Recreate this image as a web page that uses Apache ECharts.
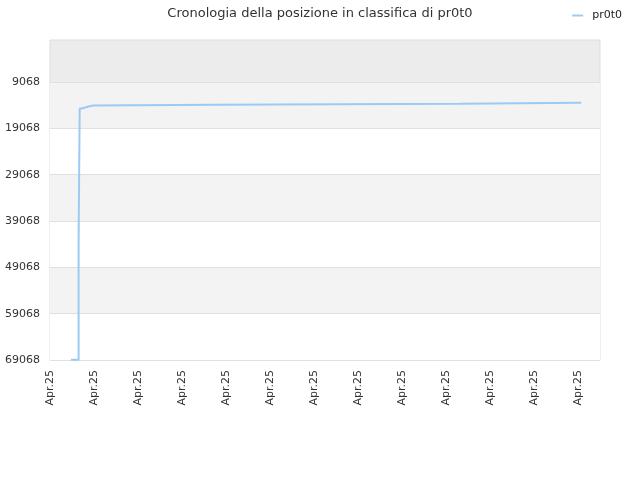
<!DOCTYPE html>
<html>
<head>
<meta charset="utf-8">
<script src="https://cdn.jsdelivr.net/npm/echarts@6/dist/echarts.min.js"></script>
<style>html,body{margin:0;padding:0;background:#fff}#c{width:640px;height:480px}</style>
</head>
<body>
<div id="c"></div>
<script>
// x positions (time index, 0..500) and ranking values
const seriesName = 'pr0t0';
const timeIdx = [19, 26, 27, 29, 32, 35, 39, 150, 372, 483];
const rankVals = [69000, 43600, 14785, 14570, 14350, 14140, 13960, 13750, 13530, 13530];
const yTicks = [9068, 19068, 29068, 39068, 49068, 59068, 69068];
const xLabel = 'Apr.25';

const data = timeIdx.map((x, i) => [x, rankVals[i]]);
const chart = echarts.init(document.getElementById('c'), null, {renderer: 'canvas'});
chart.setOption({
  animation: false,
  backgroundColor: '#fff',
  textStyle: {fontFamily: 'DejaVu Sans'},
  title: {
    text: 'Cronologia della posizione in classifica di pr0t0',
    left: 'center', top: 2,
    textStyle: {fontSize: 13, fontWeight: 'normal', color: '#333', fontFamily: 'DejaVu Sans'}
  },
  legend: {
    right: 13, top: 5,
    itemWidth: 11, itemHeight: 2,
    icon: 'rect',
    textStyle: {fontSize: 11, color: '#222', fontFamily: 'DejaVu Sans', padding: [0, 0, 0, 4]},
    data: [seriesName]
  },
  grid: {
    left: 50, right: 40, top: 40, bottom: 120,
    show: true, backgroundColor: '#ececec', borderColor: '#dddddd', borderWidth: 1
  },
  xAxis: {
    type: 'value', min: 0, max: 500, interval: 40,
    axisLine: {show: false},
    axisTick: {show: false},
    splitLine: {show: false},
    axisLabel: {
      rotate: 90, fontSize: 11, color: '#333', margin: 10,
      fontFamily: 'DejaVu Sans', showMaxLabel: false,
      formatter: (v) => (v >= 500 ? '' : xLabel)
    }
  },
  yAxis: {
    type: 'value', inverse: true, min: 0, max: 69068,
    axisLine: {show: false},
    axisTick: {show: false, customValues: yTicks},
    axisLabel: {customValues: yTicks, fontSize: 11, color: '#333', margin: 10, fontFamily: 'DejaVu Sans',
      formatter: (v) => String(v)},
    splitLine: {show: true, lineStyle: {color: '#e0e0e0', width: 1}},
    splitArea: {show: true, areaStyle: {color: ['#f3f3f3', '#ffffff']}}
  },
  series: [{
    name: seriesName,
    type: 'line',
    step: 'end',
    data: data,
    showSymbol: false,
    symbol: 'none',
    lineStyle: {color: '#9dcaf5', width: 2},
    itemStyle: {color: '#9dcaf5'}
  }]
});
</script>
</body>
</html>
